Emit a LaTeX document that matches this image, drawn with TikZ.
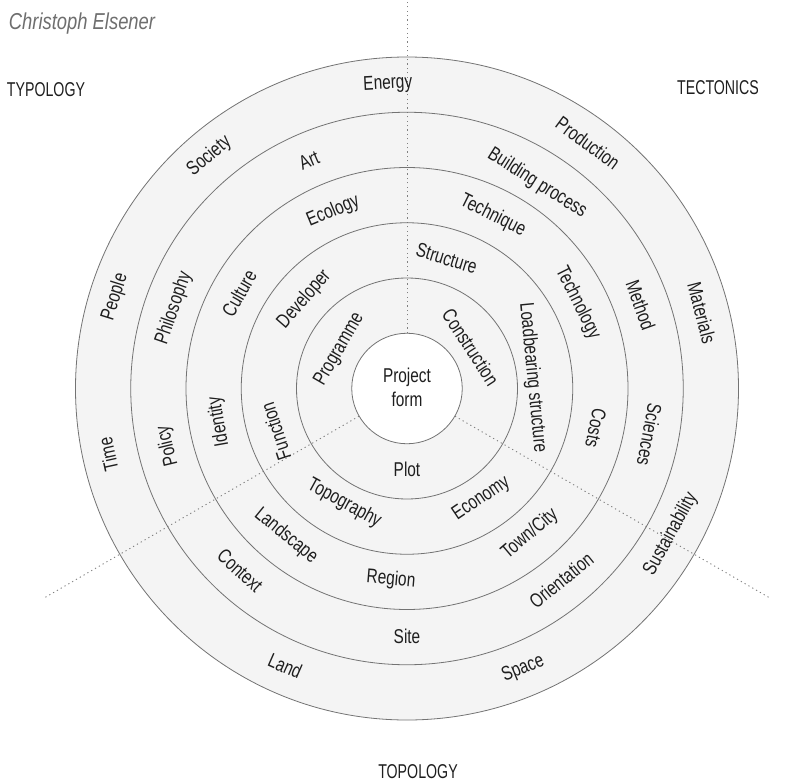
\documentclass[tikz,border=0pt]{standalone}
\usepackage{fontspec}
\usepackage{graphicx}
\setmainfont{Liberation Sans}
\definecolor{ringfill}{HTML}{F4F4F4}
\definecolor{ringline}{HTML}{737373}
\definecolor{txt}{HTML}{1E1E1E}
\definecolor{authcol}{HTML}{6E6E6E}
\definecolor{dotcol}{HTML}{808080}
\newcommand\nar[1]{\scalebox{0.77}[1]{#1}}
\newcommand\capsnar[1]{\scalebox{0.71}[1]{#1}}
\newcommand\rlab[5]{\node[lab, rotate=#4] (#1) at (#2:#3) {\nar{#5}};}
\begin{document}
\begin{tikzpicture}[x=1pt,y=1pt,
  lab/.style={font=\fontsize{20}{24}\selectfont, text=txt, inner sep=0pt},
  corner/.style={font=\fontsize{20}{24}\selectfont, text=txt, inner sep=0pt},
  ringcircle/.style={draw=ringline, line width=0.8pt},
  sector/.style={draw=dotcol, line width=0.9pt, dash pattern=on 1.2pt off 3.2pt}]
\useasboundingbox (-407,-393.5) rectangle (387,388.5);
% fills
\fill[ringfill] (0,0) circle (331.5);
\fill[white] (0,0) circle (55.25);
% centre node and sector end points
\node[circle, minimum size=110.5pt, inner sep=0pt] (core) at (0,0) {};
\coordinate (topend) at (0,388.5);
\coordinate (leftend) at (210:418);
\coordinate (rightend) at (-30:418);
\draw[sector] (core.90) -- (topend);
\draw[sector] (core.210) -- (leftend);
\draw[sector] (core.-30) -- (rightend);
% rings
\foreach \r in {55.25,110.5,165.75,221,276.25,331.5}
  \draw[ringcircle] (0,0) circle (\r);
% centre text
\node[lab, align=center] (pf) at (0,1) {\nar{Project}\\\nar{form}};
% ring 1
\rlab{programme}{150}{78}{60}{Programme}
\rlab{construction}{33}{76}{-57}{Construction}
\rlab{plot}{-90}{80.5}{0}{Plot}
% ring 2
\rlab{structure}{73}{136}{-17}{Structure}
\rlab{loadbearing}{4.8}{126}{-84.4}{Loadbearing structure}
\rlab{economy}{-56}{133}{34}{Economy}
\rlab{topography}{-118.6}{131}{-28.6}{Topography}
\rlab{function}{-162}{138}{108}{Function}
\rlab{developer}{139}{136}{49}{Developer}
% ring 3
\rlab{ecology}{112.6}{192}{22.6}{Ecology}
\rlab{technique}{63.6}{193}{-26.4}{Technique}
\rlab{technology}{26.6}{191}{-63.4}{Technology}
\rlab{costs}{-11.8}{193}{-101.8}{Costs}
\rlab{towncity}{-49.8}{190.5}{40.2}{Town/City}
\rlab{region}{-94.8}{192}{-4.8}{Region}
\rlab{landscape}{-129.4}{190.8}{-39.4}{Landscape}
\rlab{identity}{-170}{191}{100}{Identity}
\rlab{culture}{150.4}{193}{60.4}{Culture}
% ring 4
\rlab{art}{113.2}{248.6}{23.2}{Art}
\rlab{building}{57.6}{243}{-32.4}{Building process}
\rlab{method}{19.6}{248}{-70.4}{Method}
\rlab{sciences}{-10.8}{247}{-100.8}{Sciences}
\rlab{orientation}{-51.2}{246}{38.8}{Orientation}
\rlab{site}{-90}{247.5}{0}{Site}
\rlab{context}{-132.5}{247}{-42.5}{Context}
\rlab{policy}{-166.5}{246}{103.5}{Policy}
\rlab{philosophy}{161}{246.5}{71}{Philosophy}
% ring 5
\rlab{energy}{93.6}{305}{3}{Energy}
\rlab{production}{53.6}{305}{-36.4}{Production}
\rlab{materials}{14.4}{304.5}{-75.6}{Materials}
\rlab{sustainability}{-28.9}{301.4}{61.1}{Sustainability}
\rlab{space}{-67.5}{303.5}{22.5}{Space}
\rlab{land}{-113.7}{303}{-23.7}{Land}
\rlab{time}{-167.6}{306}{102.4}{Time}
\rlab{people}{162.6}{306}{72.6}{People}
\rlab{society}{130.4}{305}{40.4}{Society}
% corner labels
\node[inner sep=0pt, text=authcol, font=\itshape\fontsize{23}{26}\selectfont] (author) at (-325,364.5) {\scalebox{0.8}[1]{Christoph Elsener}};
\node[corner] (typology) at (-361,299) {\capsnar{TYPOLOGY}};
\node[corner] (tectonics) at (311,300.5) {\capsnar{TECTONICS}};
\node[corner] (topology) at (11,-383.5) {\capsnar{TOPOLOGY}};
\end{tikzpicture}
\end{document}
